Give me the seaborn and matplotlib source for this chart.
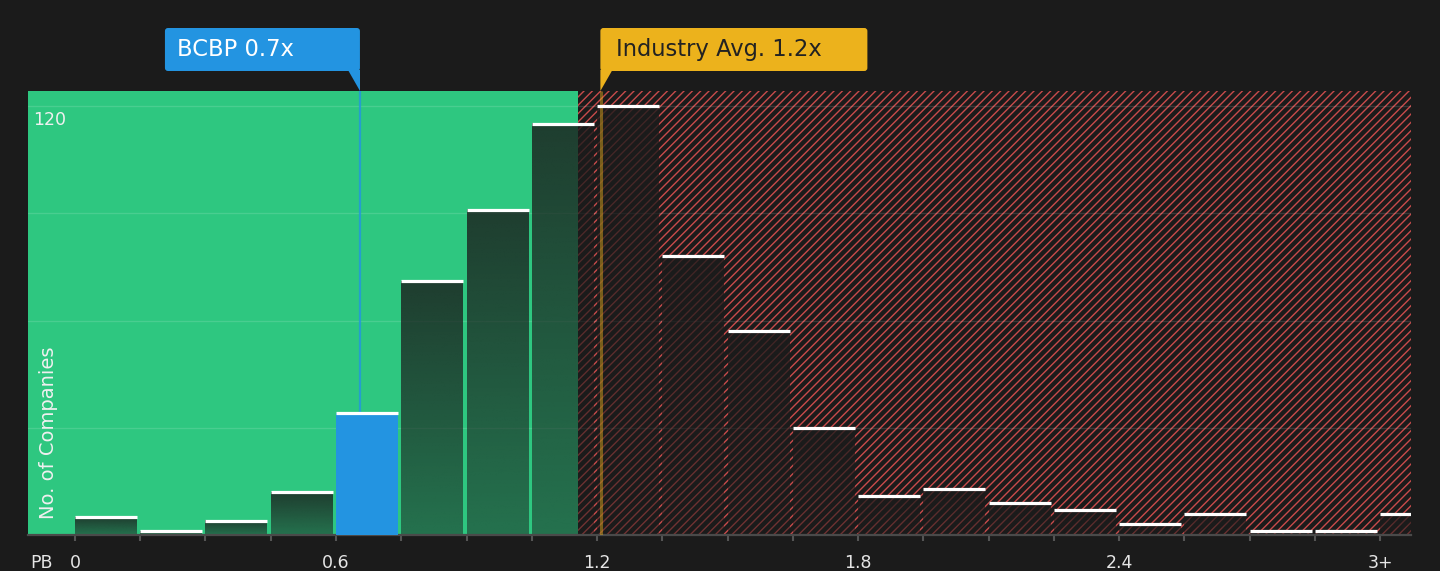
import numpy as np
import matplotlib
matplotlib.use('Agg')
import matplotlib.pyplot as plt
from matplotlib.patches import FancyBboxPatch, Polygon
from matplotlib.transforms import IdentityTransform, blended_transform_factory
import seaborn as sns

# Data

bin_width = 0.15
bin_starts = [0.0, 0.15, 0.3, 0.45, 0.6, 0.75, 0.9, 1.05, 1.2, 1.35, 1.5,
              1.65, 1.8, 1.95, 2.1, 2.25, 2.4, 2.55, 2.7, 2.85, 3.0]
company_counts = [5, 1, 4, 12, 34, 71, 91, 115, 120, 78, 57,
                  30, 11, 13, 9, 7, 3, 6, 1, 1, 6]
tick_values = [0, 0.6, 1.2, 1.8, 2.4, 3.0]
tick_labels = ['0', '0.6', '1.2', '1.8', '2.4', '3+']
y_grid = [30, 60, 90, 120]

company_name = 'BCBP'
company_pb = 0.655
industry_pb = 1.21
fair_upper = 1.156
x_range = (-0.108, 3.071)
y_top = 124.2

BG = '#1b1b1b'
GREEN = '#2ec780'
BLUE = '#2394e1'
GOLD = '#ecb21c'
RED = '#c84b4b'

sns.set_theme(style='dark', rc={'axes.facecolor': BG, 'figure.facecolor': BG})
plt.rcParams['font.family'] = ['DejaVu Sans']
plt.rcParams['hatch.linewidth'] = 1.0

fig = plt.figure(figsize=(14.4, 5.71), dpi=100)
ax = fig.add_axes([28 / 1440, 36 / 571, 1383 / 1440, 444 / 571])

# Histogram bars through seaborn

centers = np.array(bin_starts) + bin_width / 2
edges = bin_starts + [bin_starts[-1] + bin_width]
shrink = 0.95
sns.histplot(x=centers, weights=company_counts, bins=edges, shrink=shrink,
             ax=ax, zorder=2)
bars = list(ax.patches)

# Background zones

ax.axvspan(x_range[0], fair_upper, color=GREEN, lw=0, zorder=0)
ax.axvspan(fair_upper, x_range[1], facecolor=BG, edgecolor=RED, hatch='////',
           lw=0, zorder=0)

# Bar fills: dark gradient, company bin in blue
company_bin = int(np.digitize(company_pb, edges)) - 1
grad = np.zeros((64, 1, 4))
grad[..., :3] = matplotlib.colors.to_rgb(BG)
grad[:, 0, 3] = np.linspace(0.8, 0.5, 64)
lefts, rights, heights = [], [], []
for i, p in enumerate(bars):
    w, h = p.get_width(), p.get_height()
    # bars sit on the left bin edge, gap on the right
    x0 = p.get_x() - w * (1 - shrink) / (2 * shrink)
    p.set_x(x0)
    lefts.append(x0)
    rights.append(x0 + w)
    heights.append(h)
    if i == company_bin:
        p.set_facecolor(BLUE)
        p.set_edgecolor('none')
        p.set_zorder(3)
    else:
        p.set_facecolor('none')
        p.set_edgecolor('none')
        if h > 0:
            ax.imshow(grad, extent=[x0, x0 + w, 0, h], origin='upper',
                      aspect='auto', zorder=2, interpolation='bilinear')

ax.hlines(heights, lefts, rights, colors='white', lw=2.3, zorder=5)

# Marker lines
ax.vlines(company_pb, 0, y_top, colors=BLUE, lw=1.6, alpha=0.8, zorder=1)
ax.vlines(industry_pb, 0, y_top, colors=GOLD, lw=2.2, alpha=0.45, zorder=4)

# Axes styling
ax.set_xlim(*x_range)
ax.set_ylim(0, y_top)
ax.set_yticks(y_grid)
ax.set_yticklabels([])
ax.yaxis.grid(True, color='white', alpha=0.13, lw=1)
ax.xaxis.grid(False)
ax.tick_params(axis='y', length=0)
ax.set_xticks(bin_starts)
ax.set_xticklabels([tick_labels[tick_values.index(v)] if v in tick_values else ''
                    for v in bin_starts])
ax.tick_params(axis='x', colors='#555555', length=4.5, width=1.5, pad=9,
               labelcolor='#e6e6e6', labelsize=12.5, bottom=True)
for s in ['top', 'right', 'left']:
    ax.spines[s].set_visible(False)
ax.spines['bottom'].set_color('#4a4a4a')
ax.spines['bottom'].set_linewidth(1.6)
ax.set_xlabel('')
ax.set_ylabel('')

ax.text(0.004, y_grid[-1] - 1.5, str(y_grid[-1]), color='#f0f0f0', fontsize=12.5,
        va='top', ha='left', transform=blended_transform_factory(ax.transAxes, ax.transData))
ax.text(0.0145, 0.035, 'No. of Companies', rotation=90, color='#f0f0f0',
        fontsize=14, ha='center', va='bottom', transform=ax.transAxes)
fig.text(42 / 1440, 8 / 571, 'PB', color='#e6e6e6', fontsize=12.5,
         ha='center', va='center')

# Callout boxes (pixel space, anchored to data x positions)
H = 571
top_px = ax.transData.transform((0, y_top))[1]
cx = ax.transData.transform((company_pb, 0))[0]
ix = ax.transData.transform((industry_pb, 0))[0] - 1
box_y0, box_h = H - 71, 43
ident = IdentityTransform()

blue_box = FancyBboxPatch((cx - 195, box_y0), 195, box_h,
                          boxstyle='round,pad=0,rounding_size=3',
                          fc=BLUE, ec='none', transform=ident)
blue_tip = Polygon([(cx - 12, box_y0 + 1), (cx, box_y0 + 1), (cx, top_px)],
                   closed=True, fc=BLUE, ec='none', transform=ident)
gold_box = FancyBboxPatch((ix, box_y0), 267, box_h,
                          boxstyle='round,pad=0,rounding_size=3',
                          fc=GOLD, ec='none', transform=ident)
gold_tip = Polygon([(ix, box_y0 + 1), (ix + 12, box_y0 + 1), (ix, top_px)],
                   closed=True, fc=GOLD, ec='none', transform=ident)
for a in [blue_box, blue_tip, gold_box, gold_tip]:
    fig.add_artist(a)

fig.text((cx - 183) / 1440, (box_y0 + box_h / 2) / H, f'{company_name} 0.7x',
         color='white', fontsize=16.3, ha='left', va='center')
fig.text((ix + 16) / 1440, (box_y0 + box_h / 2) / H, 'Industry Avg. 1.2x',
         color='#222222', fontsize=16.3, ha='left', va='center')

fig.savefig('out.png', dpi=100, facecolor=BG)
